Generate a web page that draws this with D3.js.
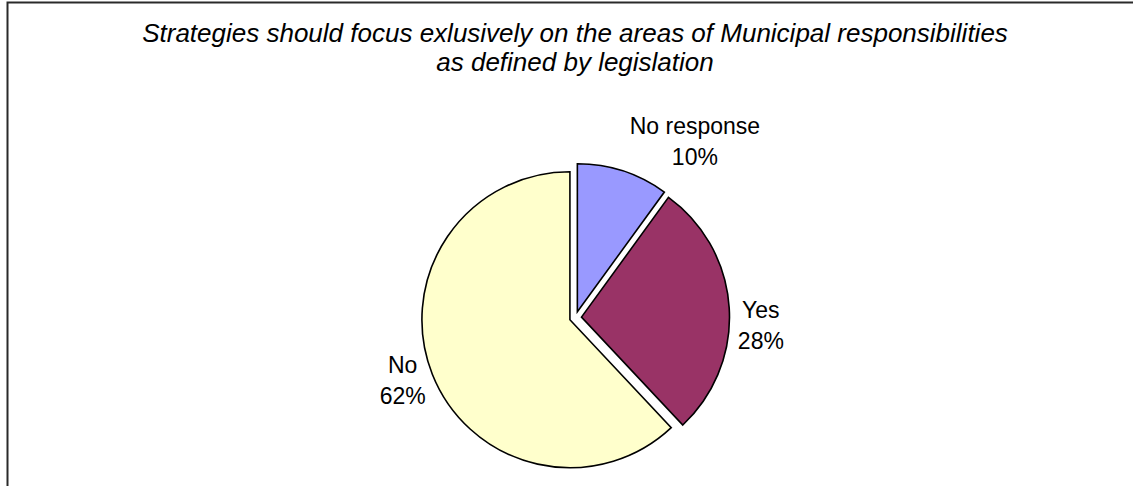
<!DOCTYPE html>
<html>
<head>
<meta charset="utf-8">
<script src="https://cdn.jsdelivr.net/npm/d3@7"></script>
<style>
  html, body { margin: 0; padding: 0; background: #fff; }
  svg { display: block; }
  text { font-family: "Liberation Sans", Arial, sans-serif; }
</style>
</head>
<body>
<svg id="chart" width="1133" height="486"></svg>
<script>
// Survey responses
const categories = ["No response", "Yes", "No"];
const percents = [10, 28, 62];
const colors = ["#9999FF", "#993366", "#FFFFCC"];
const titleLines = [
  "Strategies should focus exlusively on the areas of Municipal responsibilities",
  "as defined by legislation"
];

// Layout
const W = 1133, H = 486;
const center = [575.5, 317.5];
const radius = 148;
const explode = 6;
// label block centre: angle (deg, clockwise from 12 o'clock) and distance from slice centre
const labelPlace = [[34.6, 207], [92.8, 179.6], [250, 178]];
const titleSize = 26;
const labelSize = 23;
const titleGap = 29;
const labelGap = 31;

const svg = d3.select("#chart");

// frame (top and left edges)
svg.append("path")
  .attr("d", `M7.5,${H} L7.5,2.5 L${W},2.5`)
  .attr("fill", "none")
  .attr("stroke", "#2a2a2a")
  .attr("stroke-width", 2);

// title
const title = svg.append("text")
  .attr("text-anchor", "middle")
  .attr("font-style", "italic")
  .attr("font-size", titleSize)
  .attr("fill", "#000");
titleLines.forEach((t, i) => {
  title.append("tspan").attr("x", 575).attr("y", 42 + i * titleGap).text(t);
});

const pie = d3.pie().sort(null).value(d => d)(percents);
const arc = d3.arc().innerRadius(0).outerRadius(radius);

const slices = svg.append("g").selectAll("g")
  .data(pie)
  .join("g")
  .attr("transform", d => {
    const mid = (d.startAngle + d.endAngle) / 2;
    const x = center[0] + explode * Math.sin(mid);
    const y = center[1] - explode * Math.cos(mid);
    return `translate(${x},${y})`;
  });

slices.append("path")
  .attr("d", arc)
  .attr("fill", (d, i) => colors[i])
  .attr("stroke", "#000")
  .attr("stroke-width", 1.6)
  .attr("stroke-linejoin", "miter");

slices.each(function (d, i) {
  const [ang, dist] = labelPlace[i];
  const a = ang * Math.PI / 180;
  const lx = dist * Math.sin(a), ly = -dist * Math.cos(a);
  const t = d3.select(this).append("text")
    .attr("text-anchor", "middle")
    .attr("font-size", labelSize)
    .attr("fill", "#000");
  // two lines around the block centre; baseline sits ~8px below each line's middle
  t.append("tspan").attr("x", lx).attr("y", ly - labelGap / 2 + 8).text(categories[i]);
  t.append("tspan").attr("x", lx).attr("y", ly + labelGap / 2 + 8).text(percents[i] + "%");
});
</script>
</body>
</html>
